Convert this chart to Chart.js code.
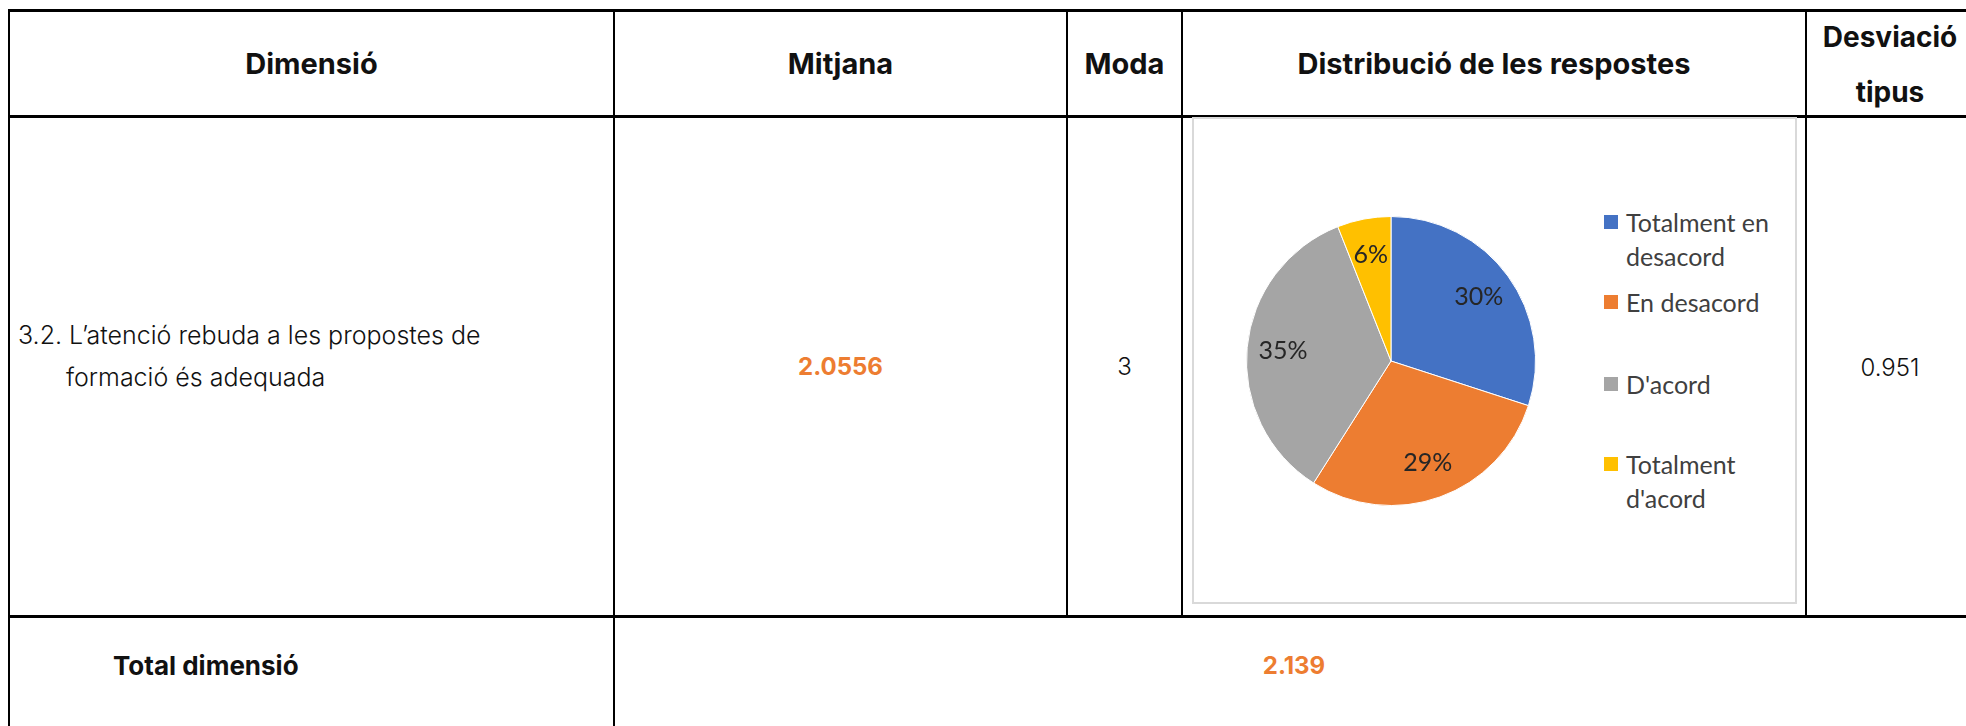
<!DOCTYPE html>
<html lang="ca">
<head>
<meta charset="utf-8">
<title>Distribució de les respostes</title>
<script src="https://cdn.jsdelivr.net/npm/chart.js@4.4.1/dist/chart.umd.min.js"></script>
<style>
  html, body { margin: 0; padding: 0; background: #fff; }
  body { width: 1966px; height: 726px; position: relative; overflow: hidden; font-family: Inter, 'Noto Sans', sans-serif; color: #111; }
  .line { position: absolute; background: #000; }
  .cell { position: absolute; display: flex; align-items: center; justify-content: center; text-align: center; }
  .head { font-weight: 700; font-size: 29px; }
  .val { font-size: 24px; font-weight: 300; }
  .orange { color: #ED7D31; font-weight: 700; }
  #pieBox { position: absolute; left: 1192px; top: 117px; width: 601px; height: 483px; border: 2px solid #d9d9d9; background: #fff; }
  #pieCanvas { position: absolute; left: 52px; top: 97px; }
  .leg { position: absolute; left: 432px; font-family: Lato, sans-serif; font-size: 25px; line-height: 34px; color: #404040; }
  .leg .sw { position: absolute; left: -22px; top: 10px; width: 14px; height: 14px; }
</style>
</head>
<body>

<!-- table rules -->
<div class="line" style="left:8px; top:9px; width:1958px; height:3px;"></div>
<div class="line" style="left:8px; top:115px; width:1958px; height:3px;"></div>
<div class="line" style="left:8px; top:615px; width:1958px; height:3px;"></div>
<div class="line" style="left:8px; top:9px; width:2px; height:717px;"></div>
<div class="line" style="left:613px; top:9px; width:2px; height:717px;"></div>
<div class="line" style="left:1066px; top:9px; width:2px; height:607px;"></div>
<div class="line" style="left:1181px; top:9px; width:2px; height:607px;"></div>
<div class="line" style="left:1805px; top:9px; width:2px; height:607px;"></div>

<!-- header -->
<div class="cell head" style="left:10px; top:12px; width:603px; height:103px;">Dimensió</div>
<div class="cell head" style="left:615px; top:12px; width:451px; height:103px;">Mitjana</div>
<div class="cell head" style="left:1068px; top:12px; width:113px; height:103px;">Moda</div>
<div class="cell head" style="left:1183px; top:12px; width:622px; height:103px;">Distribució de les respostes</div>
<div class="cell head" style="left:1807px; top:10px; width:166px; height:110px; line-height:55px; font-size:28px;">Desviació<br>tipus</div>

<!-- row -->
<div style="position:absolute; left:10px; top:314px; font-size:25px; line-height:42px; font-weight:300; padding-left:56px; text-indent:-48px;">3.2. L’atenció rebuda a les propostes de<br>formació és adequada</div>
<div class="cell val orange" style="left:615px; top:118px; width:451px; height:497px;">2.0556</div>
<div class="cell val" style="left:1068px; top:118px; width:113px; height:497px;">3</div>
<div class="cell val" style="left:1807px; top:118px; width:166px; height:499px;">0.951</div>

<div id="pieBox">
  <canvas id="pieCanvas" width="290" height="290"></canvas>
  <div id="legend"></div>
</div>

<!-- total row -->
<div class="cell head" style="left:113px; top:618px; height:94px; font-size:26px;">Total dimensió</div>
<div class="cell val orange" style="left:615px; top:618px; width:1358px; height:94px;">2.139</div>

<script>
// --- Data ---
const categories = [['Totalment en', 'desacord'], ['En desacord'], ["D'acord"], ['Totalment', "d'acord"]];
const percentages = [30, 29, 35, 6];
const sliceColors = ['#4472C4', '#ED7D31', '#A5A5A5', '#FFC000'];
const legendTops = [86, 166, 248, 328];

// --- Percentage labels inside the slices ---
const sliceLabels = {
  id: 'sliceLabels',
  afterDatasetsDraw(chart) {
    const ctx = chart.ctx;
    const meta = chart.getDatasetMeta(0);
    ctx.save();
    ctx.font = '25px Lato, sans-serif';
    ctx.fillStyle = '#262626';
    ctx.textAlign = 'center';
    ctx.textBaseline = 'middle';
    meta.data.forEach((arc, i) => {
      const p = arc.getProps(['x', 'y', 'startAngle', 'endAngle', 'outerRadius'], true);
      const mid = (p.startAngle + p.endAngle) / 2;
      const d = p.outerRadius * 0.75;
      ctx.fillText(percentages[i] + '%', p.x + Math.cos(mid) * d, p.y + Math.sin(mid) * d);
    });
    ctx.restore();
  }
};

new Chart(document.getElementById('pieCanvas'), {
  type: 'pie',
  data: {
    labels: categories,
    datasets: [{ data: percentages, backgroundColor: sliceColors, borderColor: '#fff', borderWidth: 1 }]
  },
  options: {
    responsive: false,
    animation: false,
    devicePixelRatio: 1,
    plugins: { legend: { display: false }, tooltip: { enabled: false } }
  },
  plugins: [sliceLabels]
});

// --- Legend (html so the labels can wrap like the original) ---
const legendEl = document.getElementById('legend');
categories.forEach((lines, i) => {
  const item = document.createElement('div');
  item.className = 'leg';
  item.style.top = legendTops[i] + 'px';
  item.innerHTML = `<span class="sw" style="background:${sliceColors[i]}"></span>${lines.join('<br>')}`;
  legendEl.appendChild(item);
});
</script>
</body>
</html>
